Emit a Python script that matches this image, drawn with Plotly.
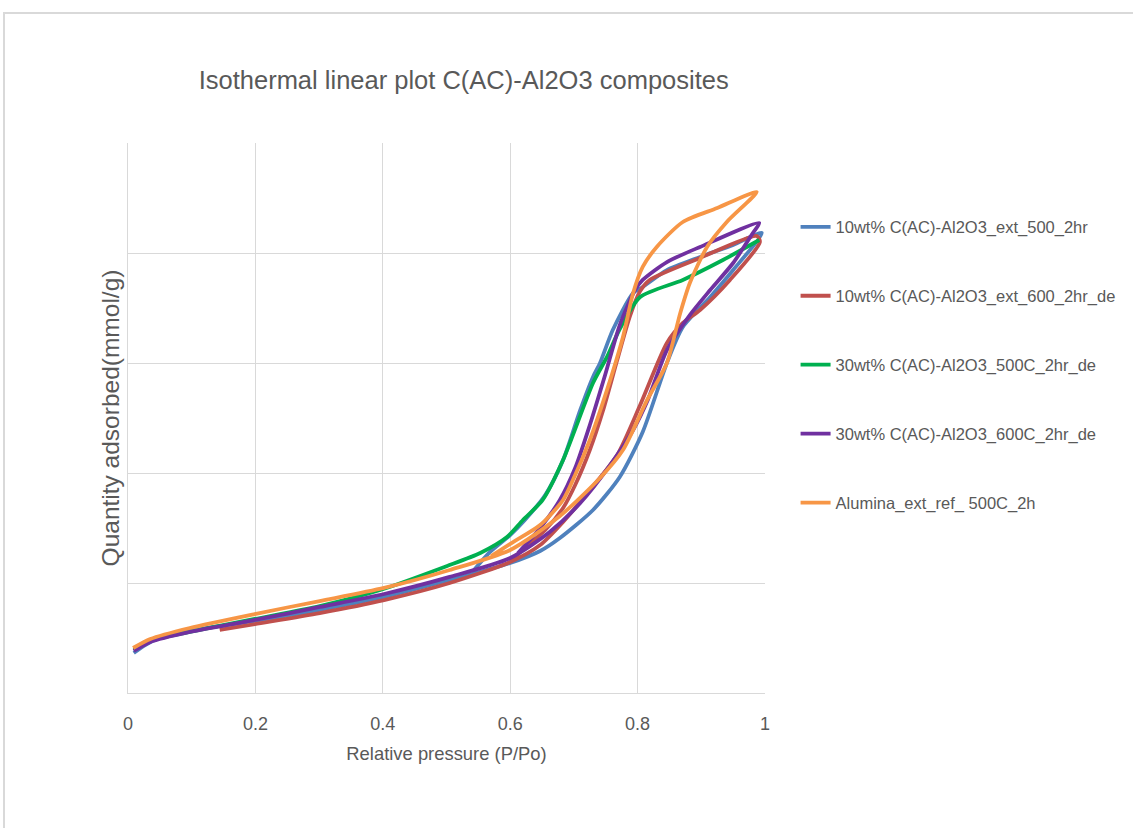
import plotly.graph_objects as go

# ---- Data (relative pressure P/Po, quantity adsorbed, arbitrary mmol/g units) ----
blue_x = [0.009, 0.027, 0.050, 0.097, 0.144, 0.199, 0.301, 0.402, 0.505, 0.600, 0.647, 0.678, 0.730,
          0.772, 0.808, 0.846, 0.871, 0.914, 0.950, 0.995,
          0.950, 0.898, 0.846, 0.808, 0.793, 0.761, 0.741, 0.730, 0.710, 0.683, 0.655, 0.623, 0.600, 0.568, 0.540]
blue_y = [0.364, 0.436, 0.500, 0.564, 0.609, 0.655, 0.755, 0.873, 1.027, 1.182, 1.291, 1.409, 1.664,
          1.964, 2.373, 3.000, 3.327, 3.600, 3.845, 4.182,
          4.073, 3.964, 3.845, 3.691, 3.636, 3.300, 3.000, 2.873, 2.573, 2.118, 1.800, 1.573, 1.436, 1.280, 1.095]

red_x = [0.144, 0.199, 0.301, 0.402, 0.505, 0.600, 0.647, 0.683, 0.725, 0.768, 0.804, 0.846, 0.871,
         0.898, 0.945, 0.992,
         0.987, 0.898, 0.819, 0.804, 0.788, 0.768, 0.746, 0.725, 0.702, 0.683, 0.655, 0.623, 0.600]
red_y = [0.573, 0.627, 0.727, 0.845, 1.000, 1.191, 1.345, 1.555, 1.845, 2.164, 2.618, 3.182, 3.364,
         3.482, 3.755, 4.100,
         4.155, 3.955, 3.755, 3.655, 3.427, 3.027, 2.573, 2.209, 1.891, 1.682, 1.482, 1.320, 1.200]

green_x = [0.009, 0.035, 0.097, 0.199, 0.301, 0.396, 0.501, 0.553, 0.595, 0.620, 0.651, 0.683, 0.730,
           0.752, 0.772, 0.804, 0.871, 0.934, 0.991]
green_y = [0.391, 0.473, 0.555, 0.673, 0.791, 0.936, 1.155, 1.273, 1.418, 1.573, 1.755, 2.118, 2.818,
           3.055, 3.309, 3.600, 3.755, 3.936, 4.118]

purple_x = [0.009, 0.035, 0.097, 0.199, 0.301, 0.402, 0.505, 0.600, 0.662, 0.710, 0.757, 0.793, 0.816,
            0.846, 0.882, 0.914, 0.950, 0.981, 0.991,
            0.898, 0.846, 0.808, 0.796, 0.772, 0.749, 0.725, 0.702, 0.678, 0.647, 0.612]
purple_y = [0.382, 0.464, 0.555, 0.664, 0.782, 0.900, 1.055, 1.227, 1.464, 1.727, 2.073, 2.391, 2.664,
            3.118, 3.436, 3.664, 3.909, 4.182, 4.273,
            4.055, 3.918, 3.755, 3.664, 3.345, 2.891, 2.436, 2.045, 1.755, 1.500, 1.270]

orange_x = [0.008, 0.035, 0.097, 0.199, 0.301, 0.402, 0.505, 0.600, 0.678, 0.741, 0.777, 0.815, 0.846,
            0.867, 0.882, 0.909, 0.940, 0.987,
            0.925, 0.871, 0.830, 0.808, 0.793, 0.777, 0.752, 0.725, 0.702, 0.683, 0.647, 0.604, 0.570]
orange_y = [0.409, 0.491, 0.591, 0.718, 0.836, 0.955, 1.118, 1.300, 1.609, 1.955, 2.209, 2.664, 3.000,
            3.455, 3.727, 4.055, 4.282, 4.555,
            4.409, 4.282, 4.055, 3.873, 3.636, 3.236, 2.755, 2.300, 1.982, 1.755, 1.527, 1.370, 1.245]

series_names = [
    "10wt% C(AC)-Al2O3_ext_500_2hr",
    "10wt% C(AC)-Al2O3_ext_600_2hr_de",
    "30wt% C(AC)-Al2O3_500C_2hr_de",
    "30wt% C(AC)-Al2O3_600C_2hr_de",
    "Alumina_ext_ref_ 500C_2h",
]
series_colors = ["#4F81BD", "#C0504D", "#00B050", "#7030A0", "#F79646"]
x_ticks = [0, 0.2, 0.4, 0.6, 0.8, 1]

FONT = "Liberation Sans, Arial, sans-serif"
TXT = "#595959"
GRID = "#D9D9D9"

fig = go.Figure()
for i, (xs, ys) in enumerate([(blue_x, blue_y), (red_x, red_y), (green_x, green_y),
                              (purple_x, purple_y), (orange_x, orange_y)]):
    fig.add_trace(go.Scatter(
        x=xs, y=ys, mode="lines", name=series_names[i], legendgroup=str(i),
        line=dict(color=series_colors[i], width=3.8, shape="spline", smoothing=0.7),
    ))

fig.update_layout(
    width=1133, height=828,
    margin=dict(l=128, r=368, t=143, b=135, autoexpand=False),
    paper_bgcolor="white", plot_bgcolor="white",
    font=dict(family=FONT, color=TXT),
    title=dict(text="Isothermal linear plot C(AC)-Al2O3 composites",
               x=0.527, xref="paper", xanchor="center",
               y=1 - 80 / 828, yref="container", yanchor="middle",
               font=dict(size=25.5, color=TXT, family=FONT)),
    showlegend=True,
    legend=dict(x=1.048, xanchor="left", y=0.879, yanchor="top",
                font=dict(size=16.5, color=TXT, family=FONT),
                tracegroupgap=44.5, bgcolor="rgba(0,0,0,0)"),
    xaxis=dict(range=[0, 1], tickvals=x_ticks, ticktext=[str(v) for v in x_ticks],
               showgrid=True, gridcolor=GRID, gridwidth=1,
               showline=True, linecolor=GRID, linewidth=1, mirror=False,
               zeroline=False, ticks="", ticklabelstandoff=14,
               tickfont=dict(size=18, color=TXT, family=FONT),
               title=dict(text="Relative pressure (P/Po)", standoff=14,
                          font=dict(size=18.4, color=TXT, family=FONT))),
    yaxis=dict(range=[0, 5], dtick=1, showticklabels=False,
               showgrid=True, gridcolor=GRID, gridwidth=1,
               showline=True, linecolor=GRID, linewidth=1,
               zeroline=False, ticks="",
               title=dict(text="Quantity adsorbed(mmol/g)", standoff=0,
                          font=dict(size=24.5, color=TXT, family=FONT))),
    shapes=[dict(type="rect", xref="paper", yref="paper",
                 x0=(4 - 128) / 637, x1=1.75, y0=-0.4, y1=(693 - 13) / 550,
                 line=dict(color=GRID, width=2), fillcolor="rgba(0,0,0,0)", layer="below")],
)

fig.write_html("out.html")
